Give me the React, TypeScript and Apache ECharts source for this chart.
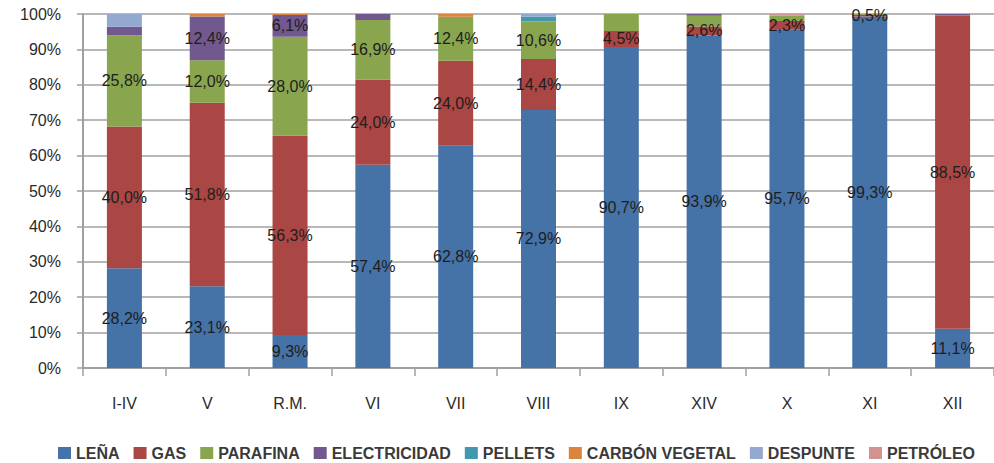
import React, { useEffect, useRef } from "react";
import * as echarts from "echarts";

const categories = ["I-IV", "V", "R.M.", "VI", "VII", "VIII", "IX", "XIV", "X", "XI", "XII"];
const lena = [28.2, 23.1, 9.3, 57.4, 62.8, 72.9, 90.7, 93.9, 95.7, 99.3, 11.1];
const gas = [40.0, 51.8, 56.3, 24.0, 24.0, 14.4, 4.5, 2.6, 2.3, 0.5, 88.5];
const parafina = [25.8, 12.0, 28.0, 16.9, 12.4, 10.6, 4.8, 3.0, 1.5, 0.2, 0];
const electricidad = [2.4, 12.4, 6.1, 1.7, 0, 0, 0, 0.5, 0, 0, 0.4];
const pellets = [0, 0, 0, 0, 0, 1.4, 0, 0, 0, 0, 0];
const carbon = [0, 0.7, 0.3, 0, 0.8, 0, 0, 0, 0, 0, 0];
const despunte = [3.6, 0, 0, 0, 0, 0.7, 0, 0, 0, 0, 0];
const petroleo = [0, 0, 0, 0, 0, 0, 0, 0, 0.5, 0, 0];
const yTicks = [0, 10, 20, 30, 40, 50, 60, 70, 80, 90, 100];

const seriesDefs = [
  { name: "LEÑA", data: lena, color: "#4572A7", labelMin: 0 },
  { name: "GAS", data: gas, color: "#AA4643", labelMin: 0 },
  { name: "PARAFINA", data: parafina, color: "#89A54E", labelMin: 5 },
  { name: "ELECTRICIDAD", data: electricidad, color: "#71588F", labelMin: 5 },
  { name: "PELLETS", data: pellets, color: "#4198AF", labelMin: Infinity },
  { name: "CARBÓN VEGETAL", data: carbon, color: "#DB843D", labelMin: Infinity },
  { name: "DESPUNTE", data: despunte, color: "#93A9CF", labelMin: Infinity },
  { name: "PETRÓLEO", data: petroleo, color: "#D19392", labelMin: Infinity },
];

const FONT = "'Liberation Sans', Arial, sans-serif";

export default function App() {
  const ref = useRef<HTMLDivElement>(null);
  useEffect(() => {
    if (!ref.current) return;
    const chart = echarts.init(ref.current, null, { renderer: "svg" });
    chart.setOption({
      animation: false,
      backgroundColor: "#ffffff",
      textStyle: { fontFamily: FONT },
      grid: { left: 83, top: 14, width: 916, height: 354 },
      legend: {
        left: 58,
        top: 445,
        padding: 0,
        itemWidth: 13,
        itemHeight: 12,
        itemGap: 14,
        icon: "rect",
        textStyle: {
          fontFamily: FONT,
          fontSize: 16,
          lineHeight: 16,
          fontWeight: "bold",
          color: "#3a3a3a",
        },
        data: seriesDefs.map((s) => s.name),
      },
      xAxis: {
        type: "category",
        data: categories,
        axisLine: { lineStyle: { color: "#a0a0a0", width: 2 } },
        axisTick: { show: true, length: 8, lineStyle: { color: "#a0a0a0", width: 1.5 } },
        axisLabel: { fontFamily: FONT, fontSize: 16, color: "#2a2a2a", margin: 27 },
      },
      yAxis: {
        type: "value",
        min: 0,
        max: 100,
        interval: 10,
        axisLine: { show: true, lineStyle: { color: "#a0a0a0", width: 2 } },
        axisTick: { show: true, length: 6, lineStyle: { color: "#a0a0a0", width: 1.5 } },
        splitLine: { lineStyle: { color: "#a0a0a0", width: 1.5 } },
        axisLabel: {
          fontFamily: FONT,
          fontSize: 16,
          color: "#2a2a2a",
          margin: 22,
          formatter: (v: number) => (yTicks.includes(v) ? v + "%" : ""),
        },
      },
      series: seriesDefs.map((s) => ({
        name: s.name,
        type: "bar",
        stack: "total",
        barWidth: 35,
        itemStyle: { color: s.color },
        data: s.data.map((v) => ({
          value: v,
          label: { show: v > 0 && v > s.labelMin },
        })),
        label: {
          position: "inside",
          fontFamily: FONT,
          fontSize: 16,
          color: "#1e1e1e",
          formatter: (p: any) => p.value.toFixed(1).replace(".", ",") + "%",
        },
      })),
    });
    return () => chart.dispose();
  }, []);
  return (
    <div
      ref={ref}
      style={{ position: "fixed", left: 0, top: 0, width: 994, height: 463 }}
    />
  );
}
